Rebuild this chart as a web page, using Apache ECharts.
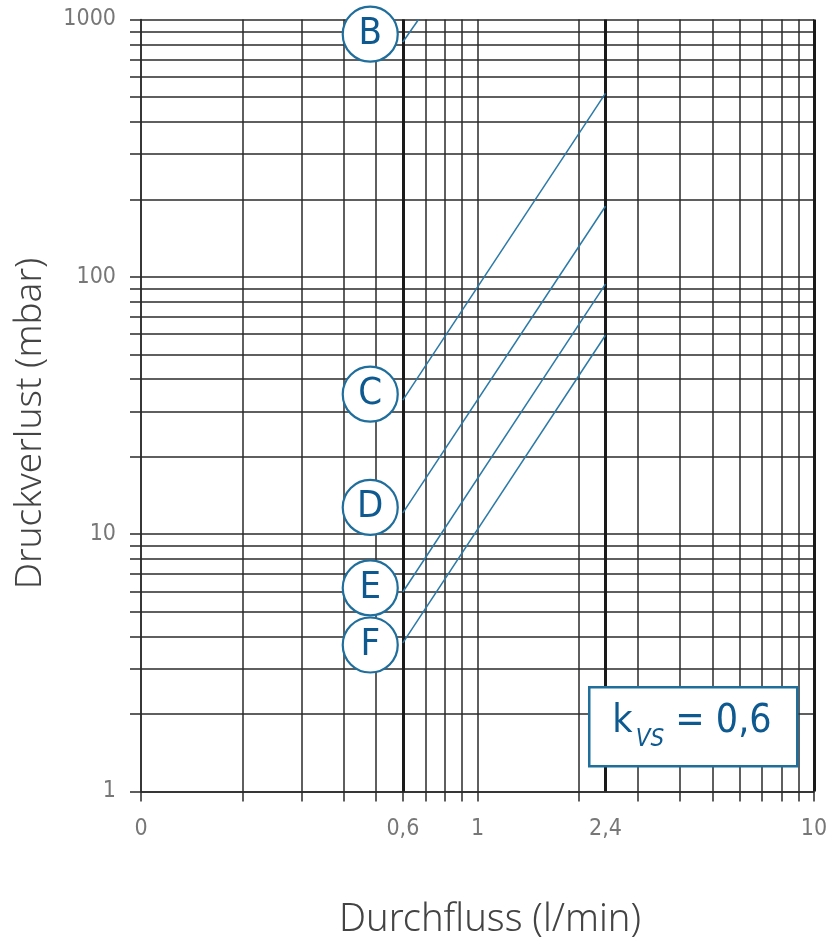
<!DOCTYPE html>
<html>
<head>
<meta charset="utf-8">
<script src="https://cdn.jsdelivr.net/npm/echarts@6/dist/echarts.min.js"></script>
<style>
html,body{margin:0;padding:0;background:#fff;}
#chart{width:827px;height:939px;}
</style>
</head>
<body>
<div id="chart"></div>
<script>
// ---- data ----
const xGridValues = [0.1,0.2,0.3,0.4,0.5,0.6,0.7,0.8,0.9,1,2,3,4,5,6,7,8,9,10];
const yGridValues = [1,2,3,4,5,6,7,8,9,10,20,30,40,50,60,70,80,90,100,200,300,400,500,600,700,800,900,1000];
const xLabelValues = [0.1, 0.6, 1, 2.4, 10];
const xLabelTexts = ['0', '0,6', '1', '2,4', '10'];
const yLabelValues = [1, 10, 100, 1000];
const thickX = [0.6, 2.4, 10];

const seriesNames = ['B', 'C', 'D', 'E', 'F'];
const seriesFlows = [
  [0.6, 0.668],
  [0.6, 2.4],
  [0.6, 2.4],
  [0.6, 2.4],
  [0.6, 2.4]
];
const seriesLoss = [
  [818, 1000],
  [33.2, 516],
  [12.1, 188],
  [5.96, 93.7],
  [3.78, 59.3]
];
const badgeFlow = 0.48;
const badgeLoss = [877, 35.0, 12.7, 6.18, 3.71];

const kvsLabel = 'k';
const kvsSub = 'VS';
const kvsValue = ' = 0,6';

// ---- chart ----
const FONT = "'DejaVu Sans Condensed', 'Liberation Sans Narrow', 'Roboto', sans-serif";
const TFONT = "'Noto Sans', 'DejaVu Sans Condensed', sans-serif";
const BLUE_LINE = '#2b79a6';
const BLUE_DARK = '#0e5a90';
const GRID = '#2a2a2a';
const GW = 1.5;

const chart = echarts.init(document.getElementById('chart'), null, {renderer: 'canvas'});

const series = [];
seriesNames.forEach((n, i) => {
  series.push({
    name: n,
    type: 'line',
    data: seriesFlows[i].map((f, j) => [f, seriesLoss[i][j]]),
    symbol: 'none',
    lineStyle: {color: BLUE_LINE, width: 1.5},
    z: 5,
    silent: true,
    animation: false
  });
});
series.push({
  type: 'scatter',
  data: seriesNames.map((n, i) => ({value: [badgeFlow, badgeLoss[i]], name: n})),
  symbol: 'circle',
  symbolSize: 55,
  itemStyle: {color: '#fff', borderColor: '#1f6e9c', borderWidth: 2.2, opacity: 1},
  label: {
    show: true, position: 'inside',
    formatter: p => p.name,
    color: BLUE_DARK, fontSize: 38, fontFamily: FONT, fontWeight: 'normal'
  },
  z: 10,
  silent: true,
  animation: false,
  markLine: {
    silent: true, symbol: 'none', animation: false,
    label: {show: false},
    lineStyle: {color: '#1a1a1a', width: 3, type: 'solid'},
    data: thickX.map(v => ({xAxis: v}))
  }
});

chart.setOption({
  animation: false,
  backgroundColor: '#fff',
  grid: {left: 141, right: 13, top: 19.5, bottom: 147.5, containLabel: false, outerBoundsMode: 'none'},
  xAxis: {
    type: 'log', logBase: 10, min: 0.1, max: 10,
    name: 'Durchfluss (l/min)', nameLocation: 'middle', nameGap: 110,
    nameTextStyle: {color: '#444', fontSize: 38, fontFamily: TFONT, fontWeight: 300, padding: [0, 0, 0, 25]},
    axisLine: {show: true, onZero: false, lineStyle: {color: GRID, width: GW}},
    axisTick: {show: true, length: 10, inside: false, customValues: xGridValues, lineStyle: {color: GRID, width: GW}},
    splitLine: {show: true, lineStyle: {color: GRID, width: GW}},
    minorTick: {show: false}, minorSplitLine: {show: false},
    axisLabel: {
      customValues: xLabelValues, margin: 26,
      formatter: v => { const i = xLabelValues.findIndex(x => Math.abs(x - v) < 1e-9); return i >= 0 ? xLabelTexts[i] : ''; },
      color: '#777', fontSize: 23, fontFamily: FONT
    }
  },
  yAxis: {
    type: 'log', logBase: 10, min: 1, max: 1000,
    name: 'Druckverlust (mbar)', nameLocation: 'middle', nameGap: 92, nameRotate: 90,
    nameTextStyle: {color: '#444', fontSize: 37, fontFamily: TFONT, fontWeight: 300, padding: [0, 36, 0, 0]},
    axisLine: {show: true, onZero: false, lineStyle: {color: GRID, width: GW}},
    axisTick: {show: true, length: 11, inside: false, customValues: yGridValues, lineStyle: {color: GRID, width: GW}},
    splitLine: {show: true, lineStyle: {color: GRID, width: GW}},
    minorTick: {show: false}, minorSplitLine: {show: false},
    axisLabel: {
      customValues: yLabelValues, margin: 25,
      formatter: v => String(Math.round(v)),
      color: '#777', fontSize: 23, fontFamily: FONT
    }
  },
  series: series,
  graphic: [
    {
      type: 'rect', left: 588, top: 686, z: 100,
      shape: {width: 208, height: 79},
      style: {fill: '#fff', stroke: '#1f6e9c', lineWidth: 2.5}
    },
    {
      type: 'text', z: 101,
      x: 692, y: 727,
      style: {
        text: '{k|' + kvsLabel + '}{sub|' + kvsSub + '}{k|' + kvsValue + '}',
        align: 'center', verticalAlign: 'middle',
        rich: {
          k: {fontSize: 39, fontFamily: FONT, fill: BLUE_DARK, verticalAlign: 'bottom', padding: [0, 0, 10, 0]},
          sub: {fontSize: 24, fontFamily: FONT, fontStyle: 'italic', fill: BLUE_DARK, verticalAlign: 'bottom', padding: [0, 0, 0, 3]}
        }
      }
    }
  ]
});
</script>
</body>
</html>
